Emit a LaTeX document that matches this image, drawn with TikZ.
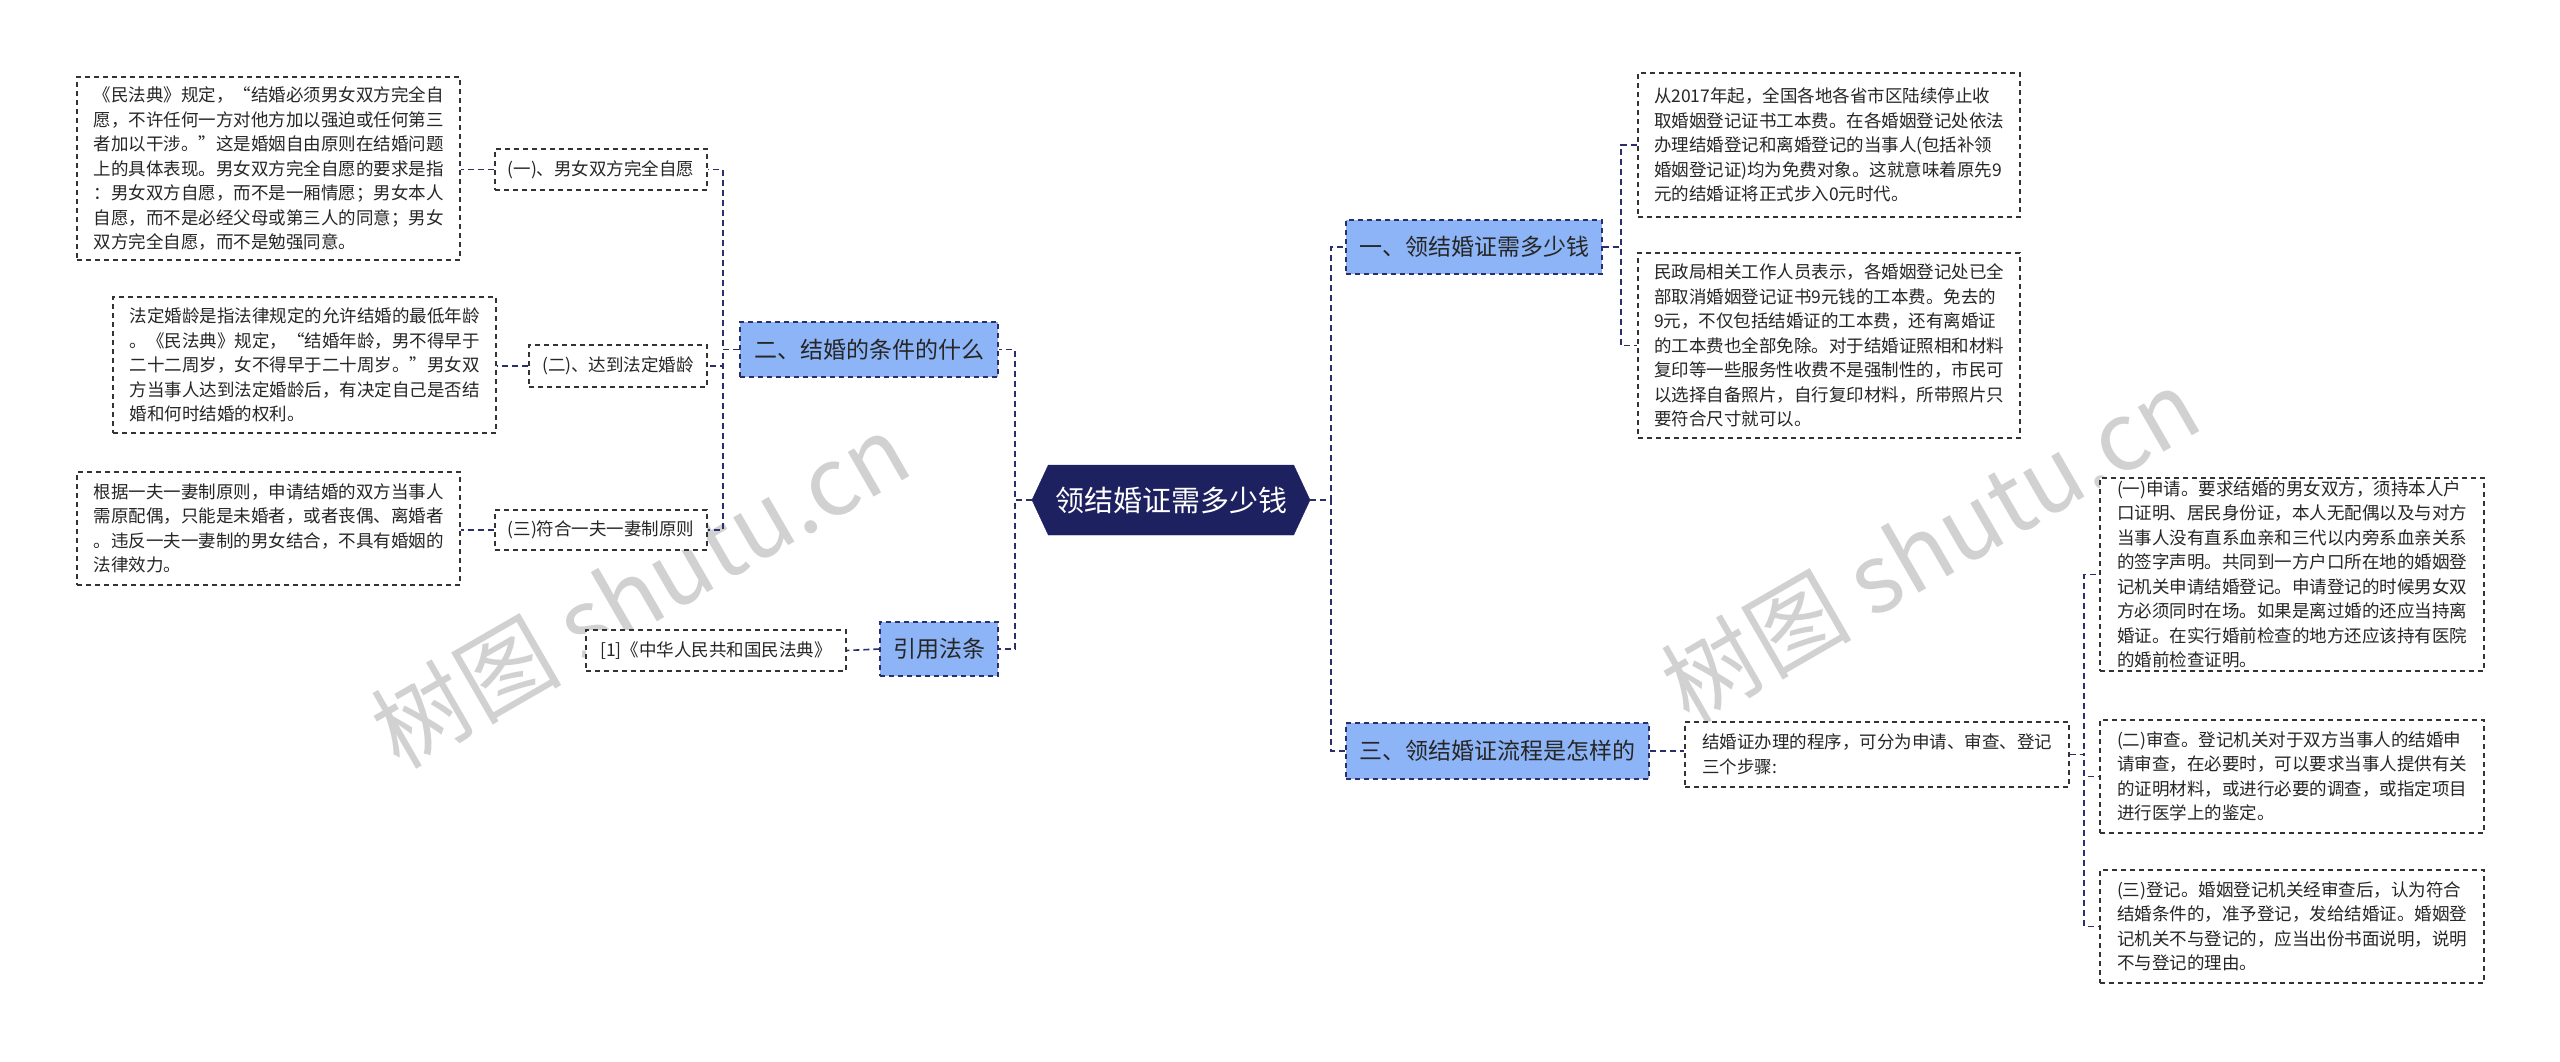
\documentclass[tikz,border=0pt]{standalone}
\usepackage{fontspec}
\setmainfont{Noto Sans CJK SC}
\usetikzlibrary{shapes.symbols}
\definecolor{navy}{HTML}{1E2160}
\definecolor{lblue}{HTML}{8DB4F6}
\definecolor{lnc}{HTML}{2A2E6A}
\tikzset{
 detail/.style={draw=black!80, dashed, line width=1.2pt, dash pattern=on 5pt off 4pt, fill=white, align=left, inner sep=0pt, font=\fontsize{17.5}{24.5}\selectfont, text=black!85},
 sub/.style={draw=black!80, dash pattern=on 5pt off 4pt, line width=1.2pt, fill=white, inner sep=0pt, font=\fontsize{17.5}{22}\selectfont, text=black!85},
 lvl/.style={draw=lnc, dash pattern=on 5pt off 4pt, line width=1.2pt, fill=lblue, inner sep=0pt, font=\fontsize{23}{28}\selectfont, text=black!85},
 conn/.style={draw=lnc, line width=1.6pt, dash pattern=on 6pt off 4pt},
 wm/.style={text=black!18, font=\fontsize{95}{100}\selectfont, rotate=30}
}
\newcommand{\bx}[7]{\node[#1, minimum width=#4-#2, minimum height=#5-#3] (#6) at ({(#2+#4)/2},{(#3+#5)/2}) {#7};}
\begin{document}
\begin{tikzpicture}[x=1pt,y=-1pt]
\useasboundingbox (0,0) rectangle (2560,1061);
\fill[white] (0,0) rectangle (2560,1061);
% watermarks
\node[wm] at (640,590) {树图 shutu.cn};
\node[wm] at (1930,545) {树图 shutu.cn};
% center
\node[shape=signal, signal to=west and east, signal pointer angle=130, fill=navy, draw=navy, minimum width=278, minimum height=70, inner sep=0pt, text=white, font=\fontsize{29}{34}\selectfont] (c) at (1171,500) {领结婚证需多少钱};
% level 1
\bx{lvl}{740}{322}{998}{377}{k2}{二、结婚的条件的什么}
\bx{lvl}{880}{622}{998}{676}{ref}{引用法条}
\bx{lvl}{1346}{220}{1602}{274}{k1}{一、领结婚证需多少钱}
\bx{lvl}{1346}{723}{1649}{779}{k3}{三、领结婚证流程是怎样的}
% left subs
\bx{sub}{495}{149}{707}{190}{s1}{(一)、男女双方完全自愿}
\bx{sub}{529}{345}{707}{387}{s2}{(二)、达到法定婚龄}
\bx{sub}{495}{510}{707}{550}{s3}{(三)符合一夫一妻制原则}
\bx{sub}{586}{630}{846}{671}{rf}{[1]《中华人民共和国民法典》}
\bx{detail}{77}{77}{460}{260}{l1}{《民法典》规定，“结婚必须男女双方完全自\\愿，不许任何一方对他方加以强迫或任何第三\\者加以干涉。”这是婚姻自由原则在结婚问题\\上的具体表现。男女双方完全自愿的要求是指\\：男女双方自愿，而不是一厢情愿；男女本人\\自愿，而不是必经父母或第三人的同意；男女\\双方完全自愿，而不是勉强同意。}
\bx{detail}{113}{297}{496}{433}{l2}{法定婚龄是指法律规定的允许结婚的最低年龄\\。《民法典》规定，“结婚年龄，男不得早于\\二十二周岁，女不得早于二十周岁。”男女双\\方当事人达到法定婚龄后，有决定自己是否结\\婚和何时结婚的权利。}
\bx{detail}{77}{472}{460}{585}{l3}{根据一夫一妻制原则，申请结婚的双方当事人\\需原配偶，只能是未婚者，或者丧偶、离婚者\\。违反一夫一妻制的男女结合，不具有婚姻的\\法律效力。}
% right
\bx{detail}{1638}{73}{2020}{217}{r1}{从2017年起，全国各地各省市区陆续停止收\\取婚姻登记证书工本费。在各婚姻登记处依法\\办理结婚登记和离婚登记的当事人(包括补领\\婚姻登记证)均为免费对象。这就意味着原先9\\元的结婚证将正式步入0元时代。}
\bx{detail}{1638}{253}{2020}{438}{r2}{民政局相关工作人员表示，各婚姻登记处已全\\部取消婚姻登记证书9元钱的工本费。免去的\\9元，不仅包括结婚证的工本费，还有离婚证\\的工本费也全部免除。对于结婚证照相和材料\\复印等一些服务性收费不是强制性的，市民可\\以选择自备照片，自行复印材料，所带照片只\\要符合尺寸就可以。}
\bx{detail}{1685}{722}{2069}{787}{r3}{结婚证办理的程序，可分为申请、审查、登记\\三个步骤:}
\bx{detail}{2100}{478}{2484}{671}{p1}{(一)申请。要求结婚的男女双方，须持本人户\\口证明、居民身份证，本人无配偶以及与对方\\当事人没有直系血亲和三代以内旁系血亲关系\\的签字声明。共同到一方户口所在地的婚姻登\\记机关申请结婚登记。申请登记的时候男女双\\方必须同时在场。如果是离过婚的还应当持离\\婚证。在实行婚前检查的地方还应该持有医院\\的婚前检查证明。}
\bx{detail}{2100}{720}{2484}{833}{p2}{(二)审查。登记机关对于双方当事人的结婚申\\请审查，在必要时，可以要求当事人提供有关\\的证明材料，或进行必要的调查，或指定项目\\进行医学上的鉴定。}
\bx{detail}{2100}{870}{2484}{983}{p3}{(三)登记。婚姻登记机关经审查后，认为符合\\结婚条件的，准予登记，发给结婚证。婚姻登\\记机关不与登记的，应当出份书面说明，说明\\不与登记的理由。}
% connectors
\draw[conn] (c.west) -- (1015,500) |- (k2.east);
\draw[conn] (c.west) -- (1015,500) |- (ref.east);
\draw[conn] (k2.west) -- (723,349.5) |- (s1.east);
\draw[conn] (k2.west) -- (723,349.5) |- (s2.east);
\draw[conn] (k2.west) -- (723,349.5) |- (s3.east);
\draw[conn] (s1.west) -- (l1.east |- s1.west);
\draw[conn] (s2.west) -- (l2.east |- s2.west);
\draw[conn] (s3.west) -- (l3.east |- s3.west);
\draw[conn] (ref.west) -- (rf.east);
\draw[conn] (c.east) -- (1331,500) |- (k1.west);
\draw[conn] (c.east) -- (1331,500) |- (k3.west);
\draw[conn] (k1.east) -- (1621,247) |- (r1.west);
\draw[conn] (k1.east) -- (1621,247) |- (r2.west);
\draw[conn] (k3.east) -- (r3.west |- k3.east);
\draw[conn] (r3.east) -- (2084,754.5) |- (p1.west);
\draw[conn] (r3.east) -- (2084,754.5) |- (p2.west);
\draw[conn] (r3.east) -- (2084,754.5) |- (p3.west);
\end{tikzpicture}
\end{document}
